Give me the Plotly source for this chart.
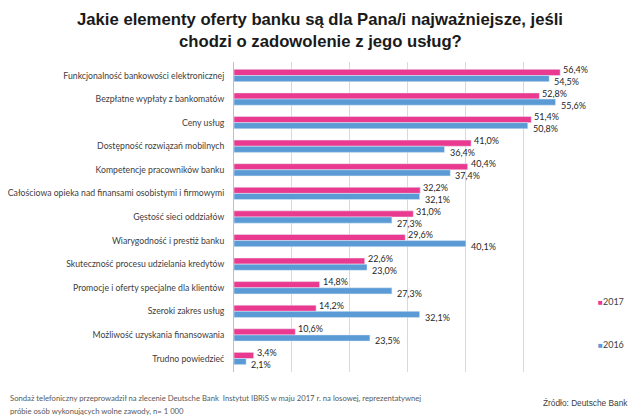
import plotly.graph_objects as go

categories = [
    "Funkcjonalność bankowości elektronicznej",
    "Bezpłatne wypłaty z bankomatów",
    "Ceny usług",
    "Dostępność rozwiązań mobilnych",
    "Kompetencje pracowników banku",
    "Całościowa opieka nad finansami osobistymi i firmowymi",
    "Gęstość sieci oddziałów",
    "Wiarygodność i prestiż banku",
    "Skuteczność procesu udzielania kredytów",
    "Promocje i oferty specjalne dla klientów",
    "Szeroki zakres usług",
    "Możliwość uzyskania finansowania",
    "Trudno powiedzieć",
]
values_2017 = [56.4, 52.8, 51.4, 41.0, 40.4, 32.2, 31.0, 29.6, 22.6, 14.8, 14.2, 10.6, 3.4]
values_2016 = [54.5, 55.6, 50.8, 36.4, 37.4, 32.1, 27.3, 40.1, 23.0, 27.3, 32.1, 23.5, 2.1]
x_ticks = [0, 10, 20, 30, 40, 50, 60]
series_names = ["2017", "2016"]
title_lines = ["Jakie elementy oferty banku są dla Pana/i najważniejsze, jeśli",
               "chodzi o zadowolenie z jego usług?"]
note_lines = ["Sondaż telefoniczny przeprowadził na zlecenie Deutsche Bank  Instytut IBRiS w maju 2017 r. na losowej, reprezentatywnej",
              "próbie osób wykonujących wolne zawody, n= 1 000"]
source_text = "Źródło: Deutsche Bank"

PINK = "#EA3A8F"
BLUE = "#5A9AD5"
LABEL_FONT = "Lato, 'Open Sans', sans-serif"
ARIAL = "'Liberation Sans', Arial, sans-serif"


def fmt(v):
    return f"{v:.1f}".replace(".", ",") + "%"


fig = go.Figure()
fig.add_trace(go.Bar(name=series_names[0], y=categories, x=values_2017, orientation="h",
                     marker_color=PINK, showlegend=False))
fig.add_trace(go.Bar(name=series_names[1], y=categories, x=values_2016, orientation="h",
                     marker_color=BLUE, showlegend=False))
# legend entries: small coloured square drawn right next to the year
for name, col, grp in zip(series_names, [PINK, BLUE], ["a", "b"]):
    fig.add_trace(go.Scatter(
        name=f'<span style="color:{col};font-size:8px">■</span>{name}',
        x=[None], y=[None], mode="markers",
        marker=dict(symbol="square", size=1, color="rgba(0,0,0,0)", line=dict(width=0)),
        legendgroup=grp, showlegend=True))

annotations = []
for c, v in zip(categories, values_2017):
    annotations.append(dict(x=v, y=c, xref="x", yref="y", text=fmt(v), showarrow=False,
                            xanchor="left", yanchor="middle", xshift=1, yshift=6,
                            font=dict(family=LABEL_FONT, size=9, color="#262626")))
for c, v in zip(categories, values_2016):
    annotations.append(dict(x=v, y=c, xref="x", yref="y", text=fmt(v), showarrow=False,
                            xanchor="left", yanchor="middle", xshift=3, yshift=-6,
                            font=dict(family=LABEL_FONT, size=9, color="#262626")))

for line, ys in zip(title_lines, [43, 21]):
    annotations.append(dict(
        x=(320 - 234) / 347, y=1, xref="paper", yref="paper", xanchor="center", yanchor="middle",
        yshift=ys, showarrow=False, text=f"<b>{line}</b>",
        font=dict(family=ARIAL, size=16.7, color="#1a1a1a"),
    ))
for line, ys in zip(note_lines, [-26, -39]):
    annotations.append(dict(
        x=0, y=0, xref="paper", yref="paper", xanchor="left", yanchor="middle",
        xshift=-226, yshift=ys, align="left", showarrow=False, text=line,
        font=dict(family=LABEL_FONT, size=7.7, color="#595959"),
    ))
annotations.append(dict(
    x=1, y=0, xref="paper", yref="paper", xanchor="right", yanchor="middle",
    xshift=49, yshift=-31, showarrow=False, text=source_text,
    font=dict(family=ARIAL, size=8.3, color="#404040"),
))

# the page body adds an 8px offset, so the figure is 8px smaller than the window
fig.update_layout(
    width=632, height=411,
    paper_bgcolor="white", plot_bgcolor="white",
    margin=dict(l=226, r=59, t=54, b=47, autoexpand=False),
    barmode="group", bargap=0.48, bargroupgap=0,
    xaxis=dict(range=[0, 60], tickvals=x_ticks, showticklabels=False, automargin=False,
               showgrid=True, gridcolor="#D9D9D9", gridwidth=1, zeroline=False, showline=False),
    yaxis=dict(autorange="reversed", showgrid=False, showline=True, linecolor="#BFBFBF",
               linewidth=1, ticks="", ticklabelstandoff=7, automargin=False,
               tickfont=dict(family=LABEL_FONT, size=8.7, color="#404040")),
    legend=dict(x=0.934, y=0.274, xanchor="left", yanchor="top", tracegroupgap=24,
                font=dict(family=LABEL_FONT, size=9, color="#404040"),
                itemwidth=30, bgcolor="rgba(0,0,0,0)"),
    annotations=annotations,
    showlegend=True,
)

fig.write_html("out.html")
